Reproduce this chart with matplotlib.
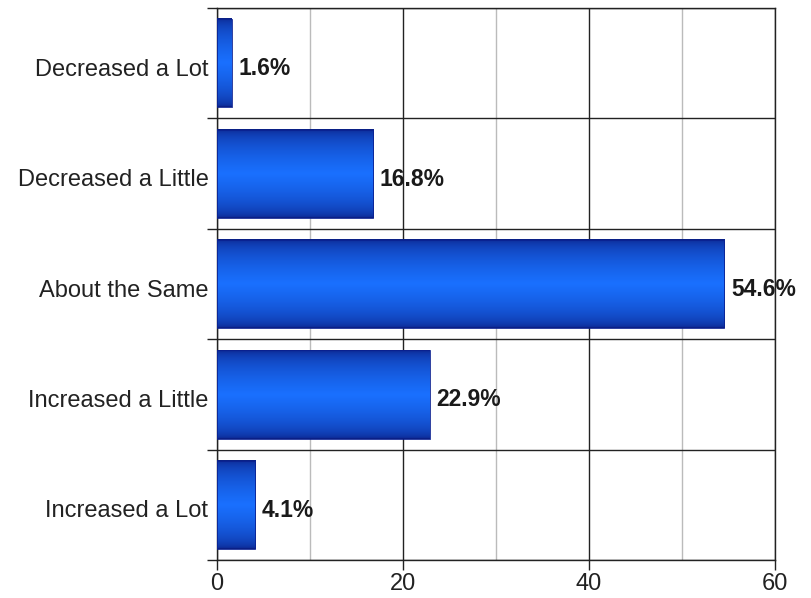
import matplotlib.pyplot as plt
import matplotlib.transforms as mtransforms
import numpy as np

categories = ['Decreased a Lot', 'Decreased a Little', 'About the Same',
              'Increased a Little', 'Increased a Lot']
percent = [1.6, 16.8, 54.6, 22.9, 4.1]
xticks = [0, 20, 40, 60]

plt.rcParams['font.family'] = ['Liberation Sans', 'DejaVu Sans']

fig = plt.figure(figsize=(8.12, 5.98), dpi=100)
ax = fig.add_axes([0.267, 0.0635, 0.687, 0.923])

n = len(categories)
ypos = np.arange(n)
barheight = 0.8

# vertical gradient: dark edges, bright middle
t = np.linspace(0, 1, 96)
w = 1 - np.abs(t - 0.5) * 2
dark = np.array([0.04, 0.12, 0.52])
bright = np.array([0.10, 0.44, 1.0])
grad = dark + (bright - dark) * (w[:, None] ** 0.45)
grad = grad[:, None, :]

for y, v in zip(ypos, percent):
    ax.imshow(grad, extent=(0, v, y + barheight / 2, y - barheight / 2),
              aspect='auto', zorder=3, interpolation='bilinear')
    ax.add_patch(plt.Rectangle((0, y - barheight / 2), v, barheight,
                               fill=False, edgecolor='#0a2090', lw=0.6, zorder=4))
    ax.text(v + 0.7, y + 0.05, f'{v:.1f}%', va='center', ha='left',
            fontsize=16.5, fontweight='bold', color='#1a1a1a', zorder=5,
            clip_on=False)

ax.set_xlim(0, 60)
ax.set_ylim(n - 0.5, -0.5)
ax.set_aspect('auto')

ax.set_xticks(xticks)
ax.set_xticks([10, 30, 50], minor=True)
ax.set_yticks(ypos)
ax.set_yticklabels(categories)
ax.set_yticks(np.arange(n + 1) - 0.5, minor=True)

ax.grid(axis='x', which='major', color='#222222', lw=1.0, zorder=0)
ax.grid(axis='x', which='minor', color='#bbbbbb', lw=1.0, zorder=0)
ax.grid(axis='y', which='minor', color='#222222', lw=1.0, zorder=0)

ax.tick_params(axis='y', which='major', length=0, pad=6, labelsize=17,
               labelcolor='#222222')
ax.tick_params(axis='y', which='minor', length=7, width=1.0, color='#222222')
ax.tick_params(axis='x', which='major', length=7, width=1.0, color='#222222',
               labelsize=17, labelcolor='#222222', pad=2)
ax.tick_params(axis='x', which='minor', length=0)

# nudge category labels down a few pixels
shift = mtransforms.ScaledTranslation(0, -4 / 100, fig.dpi_scale_trans)
for lab in ax.get_yticklabels():
    lab.set_transform(lab.get_transform() + shift)

for s in ax.spines.values():
    s.set_color('#222222')
    s.set_linewidth(1.0)

fig.savefig('out.png', dpi=100)
